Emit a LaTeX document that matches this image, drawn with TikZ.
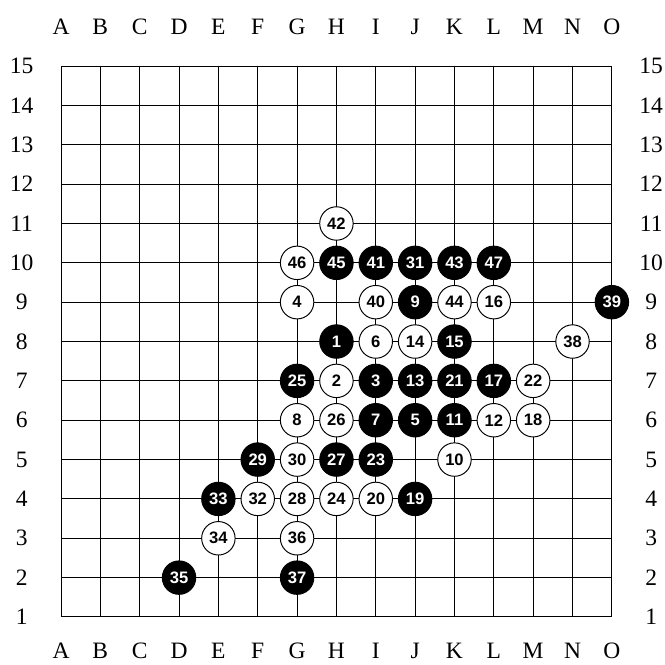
\documentclass[tikz,border=0pt]{standalone}
\usepackage{fontspec}
\setmainfont{Liberation Serif}
\newfontfamily\stonefont{Liberation Sans}
\usetikzlibrary{calc,positioning}
\tikzset{
  board line/.style={line width=0.7pt, black},
  coord label/.style={font=\fontsize{17}{17}\selectfont, inner sep=0pt},
  stone/.style={circle, draw, line width=0.7pt, minimum size=0.85cm, inner sep=0pt,
    font=\stonefont\bfseries\fontsize{12}{12}\selectfont},
  black stone/.style={stone, fill=black, text=white},
  white stone/.style={stone, fill=white, text=black},
}

\begin{document}
\begin{tikzpicture}
  \useasboundingbox (-1.55,-1.22) rectangle (15.35,15.68);

  % Board
  \draw[board line] (0,0) grid (14,14);

  % Column and row labels
  \foreach \c [count=\i from 0] in {A,B,C,D,E,F,G,H,I,J,K,L,M,N,O} {
    \coordinate (col\c) at (\i,0);
    \node[coord label] (top\c) at (\i,15) {\c};
    \node[coord label] (bot\c) at (\i,-0.87) {\c};
  }
  \foreach \r in {1,...,15} {
    \node[coord label] (left\r) at (-1,\r-1) {\r};
    \node[coord label] (right\r) at (15,\r-1) {\r};
  }

  % Black stones (odd moves)
  \foreach \n/\c/\r in {1/H/8, 3/I/7, 5/J/6, 7/I/6, 9/J/9, 11/K/6, 13/J/7, 15/K/8,
    17/L/7, 19/J/4, 21/K/7, 23/I/5, 25/G/7, 27/H/5, 29/F/5, 31/J/10, 33/E/4,
    35/D/2, 37/G/2, 39/O/9, 41/I/10, 43/K/10, 45/H/10, 47/L/10}
    \node[black stone] (move\n) at ($(col\c)+(0,\r-1)$) {\n};

  % White stones (even moves)
  \foreach \n/\c/\r in {2/H/7, 4/G/9, 6/I/8, 8/G/6, 10/K/5, 12/L/6, 14/J/8, 16/L/9,
    18/M/6, 20/I/4, 22/M/7, 24/H/4, 26/H/6, 28/G/4, 30/G/5, 32/F/4, 34/E/3,
    36/G/3, 38/N/8, 40/I/9, 42/H/11, 44/K/9, 46/G/10}
    \node[white stone] (move\n) at ($(col\c)+(0,\r-1)$) {\n};
\end{tikzpicture}
\end{document}
